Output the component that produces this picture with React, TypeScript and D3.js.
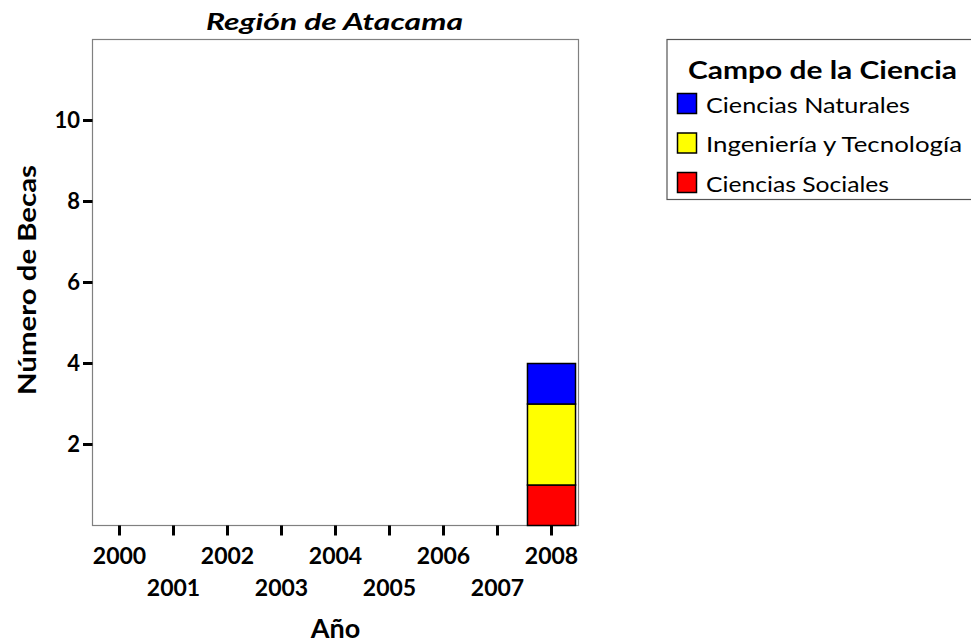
import React from "react";
import * as d3 from "d3";

const years = ["2000", "2001", "2002", "2003", "2004", "2005", "2006", "2007", "2008"];
const cienciasSociales = [0, 0, 0, 0, 0, 0, 0, 0, 1];
const ingenieriaTecnologia = [0, 0, 0, 0, 0, 0, 0, 0, 2];
const cienciasNaturales = [0, 0, 0, 0, 0, 0, 0, 0, 1];
const yTicks = [2, 4, 6, 8, 10];
const seriesNames = ["Ciencias Sociales", "Ingeniería y Tecnología", "Ciencias Naturales"];
const seriesColors = ["#ff0000", "#ffff00", "#0000ff"];
const legendOrder = [2, 1, 0];
const legendWidths = [204, 256, 183];

const W = 971;
const H = 644;
const FONT = "Lato, 'Open Sans', sans-serif";

export default function App() {
  const left = 92.5, right = 578.5, top = 39.5, bottom = 525.5;
  const x = d3.scaleBand<string>().domain(years).range([left, right]).paddingInner(0.11).paddingOuter(0.055);
  const y = d3.scaleLinear().domain([0, 12]).range([bottom, top]);

  const rows = years.map((yr, i) => ({
    year: yr,
    [seriesNames[0]]: cienciasSociales[i],
    [seriesNames[1]]: ingenieriaTecnologia[i],
    [seriesNames[2]]: cienciasNaturales[i],
  }));
  const stacked = d3.stack<any>().keys(seriesNames)(rows);

  return (
    <svg width={W} height={H} style={{ position: "absolute", left: 0, top: 0, background: "#fff" }}>
      <rect x={0} y={0} width={W} height={H} fill="#fff" />
      <text x={206} y={29.5} textLength={257} lengthAdjust="spacingAndGlyphs" fontFamily={FONT} fontWeight="bold" fontStyle="italic" fontSize={23}>
        Región de Atacama
      </text>
      <rect x={left} y={top} width={right - left} height={bottom - top} fill="#fff" stroke="#808080" strokeWidth={1.2} />
      {stacked.map((s, si) =>
        s.map((d, i) => {
          const v = d[1] - d[0];
          if (v <= 0) return null;
          return (
            <rect
              key={`${si}-${i}`}
              x={x(years[i])!}
              y={y(d[1])}
              width={x.bandwidth()}
              height={y(d[0]) - y(d[1])}
              fill={seriesColors[si]}
              stroke="#000"
              strokeWidth={1.5}
            />
          );
        })
      )}
      {yTicks.map((t) => (
        <g key={t}>
          <line x1={83} x2={left} y1={y(t)} y2={y(t)} stroke="#000" strokeWidth={3} />
          <text x={80} y={y(t)} dy="0.36em" textAnchor="end" fontFamily={FONT} fontWeight="bold" fontSize={22}>
            {t}
          </text>
        </g>
      ))}
      {years.map((yr, i) => {
        const cx = x(yr)! + x.bandwidth() / 2;
        return (
          <g key={yr}>
            <line x1={cx} x2={cx} y1={bottom} y2={bottom + 10} stroke="#000" strokeWidth={3} />
            <text x={cx} y={i % 2 === 0 ? 563.5 : 596} textAnchor="middle" fontFamily={FONT} fontWeight="bold" fontSize={23}>
              {yr}
            </text>
          </g>
        );
      })}
      <text x={335.5} y={638} textAnchor="middle" fontFamily={FONT} fontWeight="bold" fontSize={27}>
        Año
      </text>
      <text
        transform={`translate(36,280) rotate(-90)`}
        textAnchor="middle"
        textLength={230}
        lengthAdjust="spacingAndGlyphs"
        fontFamily={FONT}
        fontWeight="bold"
        fontSize={25}
      >
        Número de Becas
      </text>
      <rect x={667} y={39.5} width={320} height={160} fill="#fff" stroke="#555" strokeWidth={1.2} />
      <text x={688} y={79} textLength={269} lengthAdjust="spacingAndGlyphs" fontFamily={FONT} fontWeight="bold" fontSize={24}>
        Campo de la Ciencia
      </text>
      {legendOrder.map((si, k) => (
        <g key={si}>
          <rect x={677.5} y={93.5 + k * 39.5} width={19} height={20} fill={seriesColors[si]} stroke="#000" strokeWidth={1.5} />
          <text x={706} y={112.5 + k * 39.5} textLength={legendWidths[k]} lengthAdjust="spacingAndGlyphs" fontFamily={FONT} fontSize={21}>
            {seriesNames[si]}
          </text>
        </g>
      ))}
    </svg>
  );
}
